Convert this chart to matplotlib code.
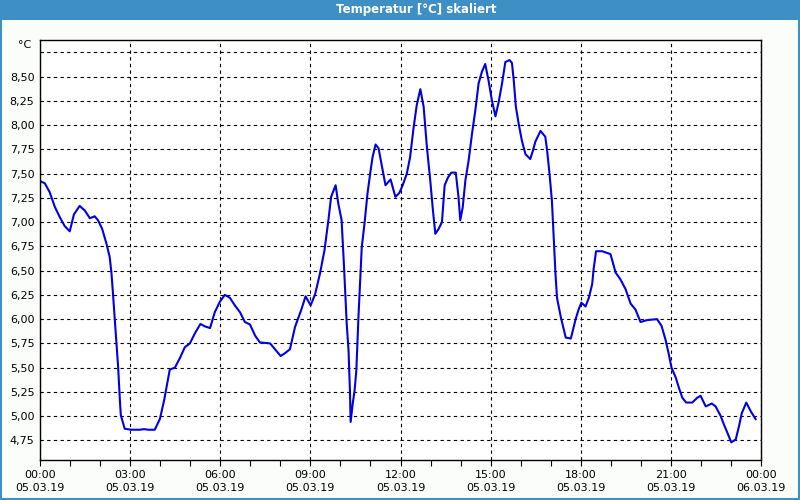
import matplotlib.pyplot as plt
from matplotlib.patches import Rectangle

# hours since 05.03.19 00:00 and temperature readings
hours = [0.0, 0.02, 0.16, 0.32, 0.49, 0.66, 0.82, 0.99, 1.13, 1.32, 1.49, 1.66, 1.82, 1.93,
         2.07, 2.21, 2.32, 2.38, 2.43, 2.49, 2.54, 2.6, 2.66, 2.69, 2.82, 3.04, 3.32, 3.47,
         3.6, 3.82, 3.99, 4.13, 4.32, 4.49, 4.66, 4.82, 4.99, 5.16, 5.34, 5.49, 5.66, 5.82,
         5.99, 6.15, 6.32, 6.49, 6.66, 6.82, 6.99, 7.16, 7.32, 7.66, 7.82, 8.01, 8.16, 8.32,
         8.49, 8.69, 8.84, 9.01, 9.16, 9.32, 9.47, 9.6, 9.69, 9.84, 9.93, 10.04, 10.12, 10.21,
         10.27, 10.32, 10.34, 10.41, 10.47, 10.53, 10.6, 10.71, 10.8, 10.9, 10.99, 11.07, 11.17,
         11.27, 11.5, 11.67, 11.83, 11.96, 12.07, 12.21, 12.32, 12.43, 12.54, 12.66, 12.77,
         12.88, 12.99, 13.08, 13.16, 13.27, 13.38, 13.47, 13.58, 13.69, 13.84, 13.93, 13.99,
         14.07, 14.16, 14.27, 14.38, 14.49, 14.6, 14.71, 14.82, 14.93, 15.04, 15.16, 15.27,
         15.38, 15.49, 15.63, 15.71, 15.77, 15.84, 15.93, 16.04, 16.16, 16.32, 16.41, 16.49,
         16.66, 16.82, 16.88, 16.96, 17.04, 17.1, 17.16, 17.21, 17.33, 17.5, 17.67, 17.83,
         17.93, 18.02, 18.16, 18.27, 18.38, 18.43, 18.51, 18.71, 18.99, 19.16, 19.32, 19.49,
         19.66, 19.82, 19.99, 20.21, 20.54, 20.69, 20.82, 20.93, 21.02, 21.16, 21.27, 21.38,
         21.51, 21.71, 21.88, 21.99, 22.16, 22.36, 22.49, 22.66, 22.77, 22.88, 23.01, 23.16,
         23.27, 23.36, 23.51, 23.66, 23.82]
temps = [7.43, 7.42, 7.40, 7.31, 7.16, 7.05, 6.96, 6.905, 7.08, 7.167, 7.12, 7.04, 7.06, 7.02,
         6.93, 6.78, 6.64, 6.47, 6.26, 5.99, 5.78, 5.51, 5.16, 5.01, 4.87, 4.86, 4.86, 4.866,
         4.86, 4.86, 4.97, 5.16, 5.48, 5.50, 5.60, 5.71, 5.75, 5.856, 5.95, 5.925, 5.908, 6.073,
         6.18, 6.25, 6.22, 6.14, 6.07, 5.97, 5.945, 5.83, 5.76, 5.75, 5.69, 5.62, 5.65, 5.69,
         5.92, 6.09, 6.235, 6.142, 6.26, 6.47, 6.71, 7.02, 7.26, 7.38, 7.19, 7.02, 6.54, 5.95,
         5.68, 5.23, 4.94, 5.13, 5.26, 5.47, 6.02, 6.74, 6.98, 7.29, 7.5, 7.67, 7.80,
         7.76, 7.38, 7.44, 7.26, 7.30, 7.378, 7.50, 7.67, 7.96, 8.205, 8.37, 8.19,
         7.77, 7.43, 7.12, 6.88, 6.93, 7.0, 7.38, 7.46, 7.51, 7.51, 7.26, 7.02,
         7.15, 7.43, 7.64, 7.91, 8.15, 8.43, 8.55, 8.63, 8.46, 8.26, 8.09, 8.24,
         8.43, 8.65, 8.67, 8.64, 8.46, 8.19, 8.02, 7.84, 7.70, 7.65, 7.74, 7.83,
         7.94, 7.88, 7.74, 7.50, 7.22, 6.84, 6.46, 6.22, 6.03, 5.81, 5.80, 6.0,
         6.10, 6.17, 6.13, 6.22, 6.36, 6.52, 6.70, 6.70, 6.67, 6.48, 6.41, 6.31,
         6.16, 6.10, 5.97, 5.99, 6.0, 5.93, 5.79, 5.64, 5.50, 5.40, 5.29, 5.19,
         5.14, 5.14, 5.19, 5.21, 5.10, 5.13, 5.10, 5.0, 4.91, 4.83, 4.73, 4.76,
         4.90, 5.03, 5.14, 5.05, 4.97]

x_ticks = [0, 3, 6, 9, 12, 15, 18, 21, 24]
x_labels = ['00:00\n05.03.19', '03:00\n05.03.19', '06:00\n05.03.19', '09:00\n05.03.19',
            '12:00\n05.03.19', '15:00\n05.03.19', '18:00\n05.03.19', '21:00\n05.03.19',
            '00:00\n06.03.19']
y_ticks = [4.75, 5.0, 5.25, 5.5, 5.75, 6.0, 6.25, 6.5, 6.75, 7.0, 7.25, 7.5, 7.75, 8.0, 8.25, 8.5, 8.75]
y_labels = ['4,75', '5,00', '5,25', '5,50', '5,75', '6,00', '6,25', '6,50', '6,75', '7,00',
            '7,25', '7,50', '7,75', '8,00', '8,25', '8,50', '']

blue_bar = '#3d8fc4'

fig = plt.figure(figsize=(8, 5), dpi=100, facecolor='#fbfdfb')

# title bar and window frame
fig.patches.append(Rectangle((0, 0.96), 1, 0.04, transform=fig.transFigure,
                             facecolor=blue_bar, edgecolor='none', zorder=0))
fig.patches.append(Rectangle((0.001, 0.002), 0.998, 0.996, transform=fig.transFigure,
                             facecolor='none', edgecolor=blue_bar, lw=1.5, zorder=0))
fig.text(0.52, 0.98, 'Temperatur [°C] skaliert', color='white', fontsize=8.5,
         fontweight='bold', ha='center', va='center')

ax = fig.add_axes([0.05, 0.08, 0.90125, 0.84])
ax.set_facecolor('white')
ax.plot(hours, temps, color='#0000e6', lw=1.5)

ax.set_xlim(0, 24)
ax.set_ylim(4.548, 8.877)
ax.set_xticks(x_ticks)
ax.set_xticklabels(x_labels, fontsize=8, linespacing=1.4)
ax.set_xticks(range(25), minor=True)
ax.set_yticks(y_ticks)
ax.set_yticklabels(y_labels, fontsize=8)

ax.tick_params(axis='y', length=0, pad=4)
ax.tick_params(axis='x', which='both', direction='out', length=4, width=0.8, pad=3)

ax.grid(True, which='major', color='black', lw=0.8, linestyle=(0, (3, 3)))
for s in ax.spines.values():
    s.set_linewidth(1)
    s.set_color('black')

ax.text(-0.012, 1.0, '°C', transform=ax.transAxes, fontsize=8, ha='right', va='top')

fig.savefig('out.png', dpi=100, facecolor=fig.get_facecolor())
